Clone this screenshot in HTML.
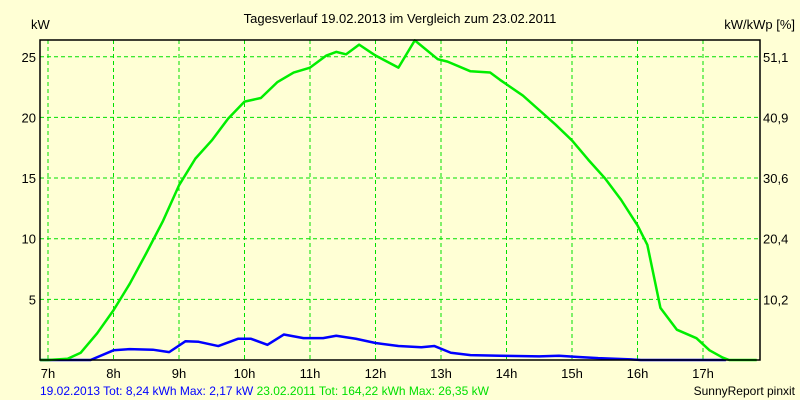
<!DOCTYPE html>
<html><head><meta charset="utf-8"><style>
body{margin:0;background:#ffffd5;}
svg{display:block;font-family:"Liberation Sans",sans-serif;}
</style></head><body>
<svg id="c" width="800" height="400">
<rect width="800" height="400" fill="#ffffd5"/>
<text x="400" y="23" font-size="13" text-anchor="middle">Tagesverlauf 19.02.2013 im Vergleich zum 23.02.2011</text>
<text x="31" y="29" font-size="13">kW</text>
<text x="795" y="29" font-size="13" text-anchor="end">kW/kWp [%]</text>
<g id="grid"></g><g id="series"></g>
<rect x="40" y="40" width="720" height="320" fill="none" stroke="#000" stroke-width="1.5"/>
<text x="40" y="395" font-size="12"><tspan fill="#0000ff">19.02.2013 Tot: 8,24 kWh Max: 2,17 kW</tspan><tspan fill="#00e000"> 23.02.2011 Tot: 164,22 kWh Max: 26,35 kW</tspan></text>
<text x="795" y="395" font-size="12" text-anchor="end">SunnyReport pinxit</text>
</svg>
<script>
const hourTicks=[7,8,9,10,11,12,13,14,15,16,17];
const kwTicks=[5,10,15,20,25];
const pctLabels=["10,2","20,4","30,6","40,9","51,1"];
const greenT=[6.88,7.0,7.3,7.5,7.75,8.0,8.25,8.5,8.75,9.0,9.25,9.5,9.75,10.0,10.25,10.5,10.75,11.0,11.25,11.4,11.55,11.75,12.0,12.35,12.6,12.95,13.1,13.45,13.75,13.9,14.25,14.5,14.75,15.0,15.25,15.5,15.75,16.0,16.15,16.35,16.6,16.9,17.1,17.3,17.4,17.82];
const greenV=[0,0,0.1,0.6,2.2,4.1,6.3,8.8,11.4,14.4,16.6,18.1,19.9,21.3,21.6,22.9,23.7,24.1,25.1,25.4,25.2,26.0,25.1,24.1,26.35,24.8,24.6,23.8,23.7,23.1,21.8,20.6,19.4,18.1,16.5,15.0,13.2,11.1,9.5,4.3,2.5,1.8,0.8,0.2,0,0];
const blueT=[6.88,7.65,8.0,8.25,8.6,8.85,9.1,9.3,9.6,9.9,10.1,10.35,10.6,10.9,11.2,11.4,11.7,12.0,12.35,12.7,12.9,13.15,13.45,13.9,14.5,14.8,15.1,15.4,15.9,16.05,17.35];
const blueV=[0,0,0.8,0.9,0.85,0.65,1.55,1.5,1.15,1.75,1.75,1.25,2.1,1.8,1.8,2.0,1.75,1.4,1.15,1.05,1.15,0.6,0.4,0.35,0.3,0.35,0.25,0.15,0.05,0,0];
const X=t=>48+(t-7)*65.5;
const Y=v=>360-v*12.13;
const NS="http://www.w3.org/2000/svg";
const grid=document.getElementById('grid'),ser=document.getElementById('series'),svg=document.getElementById('c');
function mk(tag,attrs,parent){const e=document.createElementNS(NS,tag);for(const k in attrs)e.setAttribute(k,attrs[k]);parent.appendChild(e);return e;}
hourTicks.forEach(h=>{
 const l=mk('line',{x1:X(h),x2:X(h),y1:40,y2:360,stroke:'#00e000','stroke-dasharray':'4,3'},grid);
 
 
 const t=mk('text',{x:X(h),y:378,'font-size':13,'text-anchor':'middle'},svg);
 t.textContent=h+'h';
 
 
});
kwTicks.forEach((v,i)=>{
 const l=mk('line',{x1:40,x2:760,y1:Y(v),y2:Y(v),stroke:'#00e000','stroke-dasharray':'4,3'},grid);
 
 
 const t=mk('text',{x:36,y:Y(v)+5,'font-size':13,'text-anchor':'end'},svg);
 t.textContent=v;
 
 
 const r=mk('text',{x:763,y:Y(v)+5,'font-size':13},svg);
 r.textContent=pctLabels[i];
 
 
});
function line(T,V,color,name){
 const p=mk('polyline',{points:T.map((t,i)=>X(t)+','+Y(V[i])).join(' '),fill:'none',stroke:color,'stroke-width':2.5,'stroke-linejoin':'round'},ser);
 
 
}
line(blueT,blueV,'#0000ff','series-19-02-2013');
line(greenT,greenV,'#00ee00','series-23-02-2011');
</script>
</body></html>
